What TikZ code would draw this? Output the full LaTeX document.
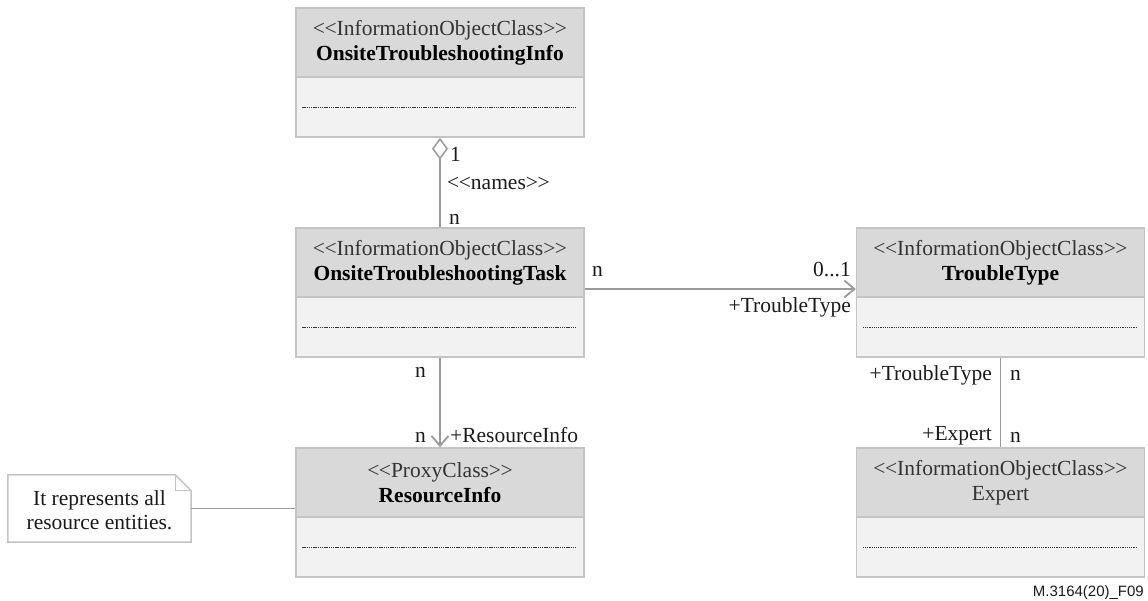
\documentclass[tikz,border=0pt]{standalone}
\usepackage{fontspec}
\setmainfont{Liberation Serif}[Ligatures=ResetAll]
\newfontfamily\footfont{Liberation Sans}
\usetikzlibrary{arrows.meta}
\definecolor{boxline}{HTML}{C4C4C4}
\definecolor{hdrfill}{HTML}{D9D9D9}
\definecolor{bdyfill}{HTML}{F2F2F2}
\definecolor{conn}{HTML}{9A9A9A}
\definecolor{stc}{HTML}{333333}
\definecolor{labc}{HTML}{1A1A1A}
\newcommand{\stlt}{<\kern-0.5pt<}
\newcommand{\stgt}{>\kern-0.5pt>}
\begin{document}
\begin{tikzpicture}[x=1pt,y=-1pt,
  hdr/.style={draw=boxline, fill=hdrfill, line width=1.5pt, minimum width=288pt, minimum height=69pt, inner sep=0pt, align=center, font=\fontsize{21.5}{25}\selectfont},
  bdy/.style={draw=boxline, fill=bdyfill, line width=1.5pt, minimum width=288pt, minimum height=60pt, inner sep=0pt},
  dotline/.style={draw=black!80, line width=1pt, dash pattern=on 1.3pt off 0.9pt},
  lab/.style={font=\fontsize{21.5}{25}\selectfont, inner sep=0pt, text=labc},
  connector/.style={draw=conn, line width=1.8pt},
  openarrow/.style={-{Straight Barb[length=10pt,width=17pt,line width=1.8pt]}},
  st/.style={text=stc}
]
\useasboundingbox (0,0) rectangle (1148,600);

% classes
\node[hdr] (infoH) at (440,42.5) {{\color{stc}\stlt InformationObjectClass\stgt}\\\textbf{OnsiteTroubleshootingInfo}};
\node[bdy] (infoB) at (440,107) {};
\node[hdr] (taskH) at (440,262.5) {{\color{stc}\stlt InformationObjectClass\stgt}\\\textbf{OnsiteTroubleshootingTask}};
\node[bdy] (taskB) at (440,327) {};
\node[hdr] (resH) at (440,482.5) {{\color{stc}\stlt ProxyClass\stgt}\\\textbf{ResourceInfo}};
\node[bdy] (resB) at (440,547) {};
\node[hdr] (ttH) at (1000.5,262.5) {{\color{stc}\stlt InformationObjectClass\stgt}\\\textbf{TroubleType}};
\node[bdy] (ttB) at (1000.5,327) {};
\node[hdr] (exH) at (1000.5,482.5) {{\color{stc}\stlt InformationObjectClass\stgt}\\{\color{stc}Expert}};
\node[bdy] (exB) at (1000.5,547) {};

\foreach \b in {infoB,taskB,resB,ttB,exB}{
  \draw[dotline] ([xshift=7pt]\b.west) -- ([xshift=-9pt]\b.east);
}

% note
\node[minimum width=183pt, minimum height=67pt, inner sep=0pt] (note) at (99.5,508.5) {};
\draw[draw=boxline, fill=white, line width=1.5pt]
  (note.north west) -- ([xshift=-16pt]note.north east) -- ([yshift=-16pt]note.north east) -- (note.south east) -- (note.south west) -- cycle;
\draw[draw=boxline, line width=1.2pt]
  ([xshift=-16pt]note.north east) -- ([xshift=-16pt,yshift=-16pt]note.north east) -- ([yshift=-16pt]note.north east);
\node[lab, align=center, font=\fontsize{21.5}{24}\selectfont] (notetext) at (99.5,510) {It represents all\\resource entities.};

% connectors
\draw[connector] (note.east) -- (note.east -| resH.west);
\draw[connector, {Diamond[open,fill=white,length=22pt,width=16pt,line width=1.5pt]}-] (infoB.south) -- (taskH.north);
\draw[connector, openarrow] (taskB.south) -- (resH.north);
\draw[connector, openarrow] (taskH.east |- 0,289) coordinate (tstart) -- (tstart -| ttH.west);
\draw[connector] (ttB.south) -- (exH.north);

% labels
\node[lab, anchor=base west] (l1) at (450,161) {1};
\node[lab, anchor=base west] (lnames) at (447,189) {\stlt names\stgt};
\node[lab, anchor=base west] (ln1) at (449,224) {n};

\node[lab, anchor=base west] (ln2) at (592,276) {n};
\node[lab, anchor=base east] (l01) at (851,276) {0...1};
\node[lab, anchor=base east] (ltt1) at (851,312) {+TroubleType};

\node[lab, anchor=base west] (ln3) at (415,377) {n};
\node[lab, anchor=base west] (ln4) at (415,442) {n};
\node[lab, anchor=base west] (lri) at (450,442) {+ResourceInfo};

\node[lab, anchor=base east] (ltt2) at (992,380) {+TroubleType};
\node[lab, anchor=base west] (ln5) at (1010,380) {n};
\node[lab, anchor=base east] (lex) at (992,440) {+Expert};
\node[lab, anchor=base west] (ln6) at (1010,442) {n};

\node[inner sep=0pt, anchor=base east, font=\footfont\fontsize{15}{18}\selectfont, text=labc] (fig) at (1144,596) {M.3164(20)\_F09};
\end{tikzpicture}
\end{document}
